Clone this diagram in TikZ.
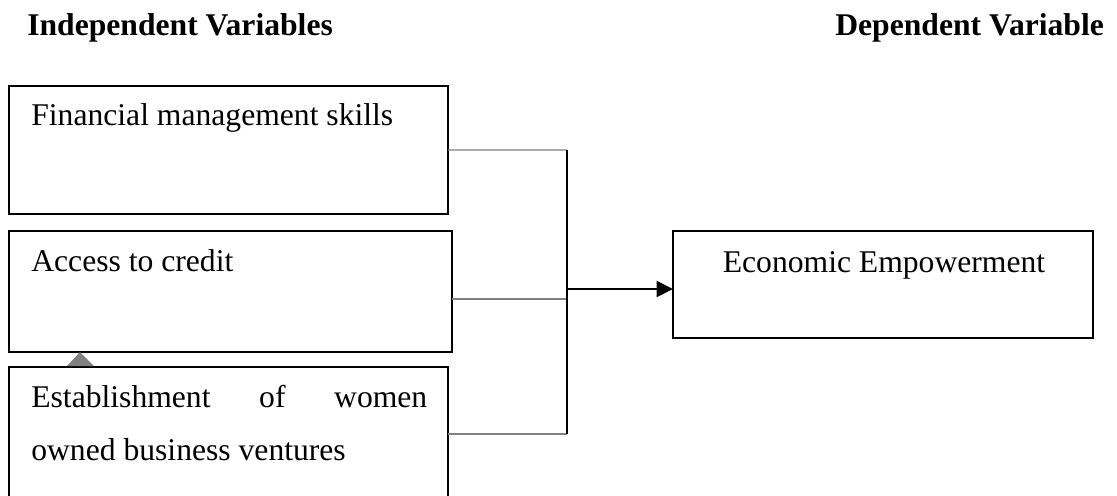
\documentclass[tikz,border=0pt]{standalone}
\usepackage{fontspec}
\setmainfont{Liberation Serif}
\usetikzlibrary{arrows.meta}
\begin{document}
\begin{tikzpicture}[x=0.02cm,y=-0.02cm,
  font=\fontsize{18}{21.6}\selectfont,
  box/.style={draw,line width=1.1pt,inner sep=0pt,outer sep=0pt,anchor=north west},
  lbl/.style={anchor=base west,inner sep=0pt},
  link/.style={draw=gray,line width=0.6pt}]
\useasboundingbox (0,0) rectangle (1117,495);

\node (indep) [lbl,font=\fontsize{18}{21.6}\selectfont\bfseries] at (27,35) {Independent Variables};
\node (dep) [lbl,font=\fontsize{18}{21.6}\selectfont\bfseries] at (835,35) {Dependent Variable};

\node (fin) [box,minimum width=8.78cm,minimum height=2.56cm] at (9,86) {};
\node (acc) [box,minimum width=8.86cm,minimum height=2.42cm] at (9,231) {};
\node (est) [box,minimum width=8.78cm,minimum height=2.8cm] at (9,367) {};
\node (emp) [box,minimum width=8.4cm,minimum height=2.14cm] at (673,231) {};

\node (finlbl) [lbl] at (31,125) {Financial management skills};
\node (acclbl) [lbl] at (31,271) {Access to credit};
\node (estlbla) [lbl] at (31,407) {\makebox[7.92cm][s]{Establishment\hfill of\hfill women}};
\node (estlblb) [lbl] at (31,460) {owned business ventures};
\node (emplbl) [anchor=base,inner sep=0pt] at (884,272) {Economic Empowerment};

\fill[gray] (67,366) -- (94,366) -- (80,352) -- cycle;

\coordinate (jtop) at (567,150);
\coordinate (jacc) at (567,299);
\coordinate (jest) at (567,434);
\coordinate (jmid) at (567,289);

\draw[link] (fin.east) -- (jtop);
\draw[link] (acc.east |- jacc) -- (jacc);
\draw[link] (est.east |- jest) -- (jest);
\draw[line width=0.8pt] (jtop) -- (jest);
\draw[-{Triangle[length=0.33cm,width=0.32cm]},line width=1.3pt] (jmid) -- (jmid -| emp.west);

\end{tikzpicture}
\end{document}
